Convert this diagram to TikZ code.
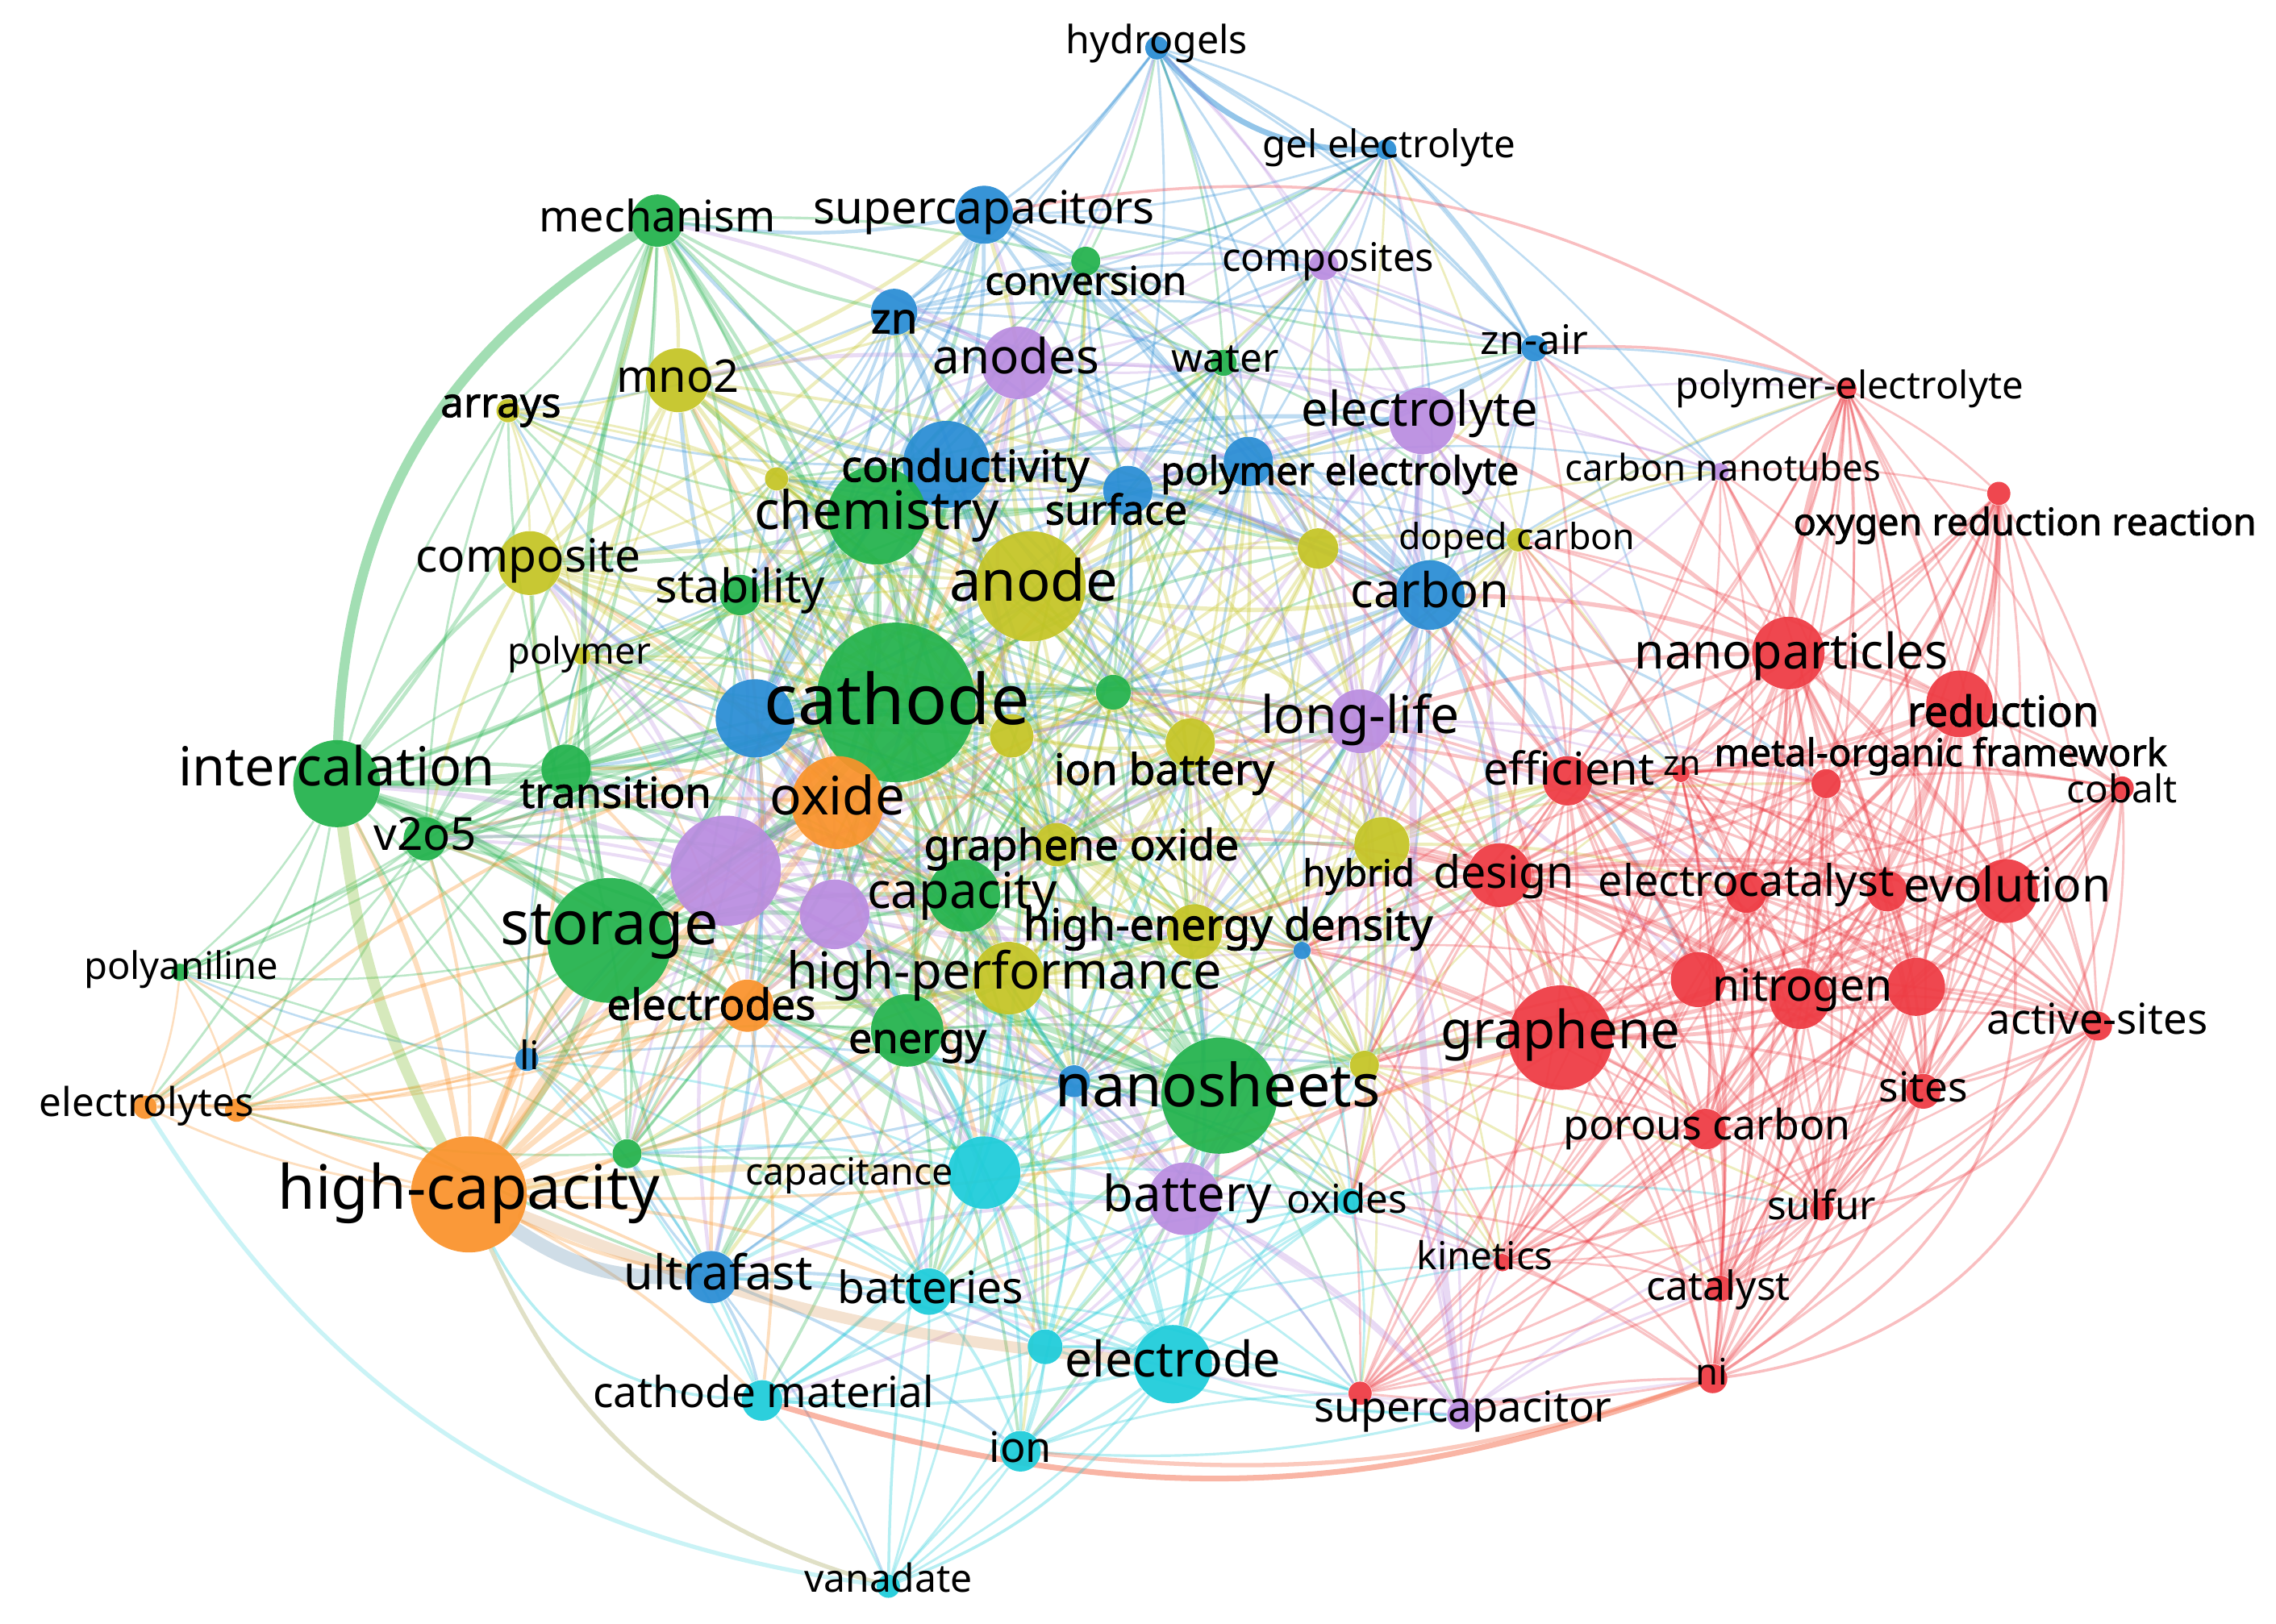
\documentclass[tikz,border=0pt]{standalone}
\usepackage{fontspec}
\setmainfont{Noto Sans}
\newfontfamily\kwbf{Noto Sans}[FakeBold=1.6]
\pgfdeclarelayer{bgl}
\pgfdeclarelayer{edges}
\pgfsetlayers{bgl,edges,main}
\definecolor{cR}{RGB}{238,58,66}
\definecolor{cG}{RGB}{34,178,76}
\definecolor{cB}{RGB}{40,140,212}
\definecolor{cY}{RGB}{196,196,36}
\definecolor{cP}{RGB}{186,140,224}
\definecolor{cO}{RGB}{250,146,42}
\definecolor{cC}{RGB}{28,204,218}
\newcommand\kw[3][]{{#1\fontsize{10}{12}\selectfont\setbox0\hbox{#3}\edef\kwW{\the\wd0}\pgfmathsetmacro\kwfs{10*#2*0.51215/\kwW}\fontsize{\kwfs}{\kwfs}\selectfont\vphantom{hg}#3}}
\def\nodelist{%
hydrogels/797/33/B/8,%
gelel/955/103/B/7,%
supercaps/678/148/B/20,%
znb/616/215/B/16,%
znair/1057/240/B/9,%
conduct/652/320/B/30,%
surface/777/338/B/17,%
polyel/860/318/B/17,%
carbon/985/410/B/24,%
bxa/520/495/B/27,%
li/363/730/B/8,%
ultrafast/490/880/B/18,%
bxb/897/655/B/6,%
bxc/740/745/B/11,%
mechanism/453/152/G/18,%
conversion/748/180/G/10,%
water/843/250/G/9,%
chemistry/604/355/G/34,%
stability/510/410/G/14,%
cathode/617/484/G/55,%
intercal/232/540/G/30,%
transition/390/530/G/17,%
vtwo/293/578/G/15,%
storage/420/648/G/43,%
capacity/664/617/G/25,%
energy/625/710/G/25,%
nanosheets/840/755/G/40,%
polyaniline/124/670/G/6,%
gxa/432/795/G/10,%
gxb/767/477/G/12,%
mno/467/262/Y/22,%
arrays/350/283/Y/8,%
yxa/535/330/Y/8,%
composite/365/388/Y/22,%
polymer/401/452/Y/6,%
anode/710/404/Y/38,%
yxb/908/378/Y/14,%
doped/1046/372/Y/8,%
ionbatt/820/512/Y/17,%
yxc/697/507/Y/15,%
grox/728/582/Y/15,%
hybrid/952/582/Y/19,%
hed/823/642/Y/19,%
highperf/695/674/Y/25,%
yxd/940/734/Y/10,%
composites/912/183/P/10,%
anodes/701/250/P/25,%
electrolyte/980/290/P/23,%
cnt/1185/325/P/6,%
longlife/937/497/P/22,%
pxa/500/600/P/38,%
pxb/575/630/P/24,%
battery/816/826/P/25,%
supercap/1007/975/P/10,%
oxide/577/553/O/32,%
electrodes/515/693/O/18,%
highcap/323/823/O/40,%
electrolytes/100/763/O/8,%
oxa/163/765/O/8,%
capacitance/678/808/C/25,%
batteries/640/890/C/16,%
cxa/720/928/C/12,%
electrode/808/940/C/27,%
cathmat/525/965/C/14,%
ion/703/1000/C/14,%
vanadate/612/1093/C/8,%
oxides/930/828/C/9,%
polymerel/1272/268/R/7,%
orr/1377/340/R/8,%
nanopart/1232/450/R/25,%
reduction/1350/485/R/23,%
efficient/1080/538/R/17,%
znr/1158/533/R/6,%
mof/1258/540/R/10,%
cobalt/1462/543/R/8,%
design/1033/603/R/22,%
electrocat/1203/615/R/14,%
rxa/1300/614/R/14,%
evolution/1382/614/R/22,%
rxb/1170/675/R/19,%
nitrogen/1240/688/R/21,%
rxc/1320/680/R/20,%
graphene/1075/715/R/36,%
activesites/1445/707/R/10,%
sites/1325/752/R/12,%
porous/1175/778/R/14,%
sulfur/1255/833/R/8,%
kinetics/1035/870/R/6,%
catalyst/1185/888/R/9,%
ni/1180/950/R/10,%
rxd/937/960/R/8}
\tikzset{
  kwnode/.style={circle,inner sep=0pt,draw=none,fill opacity=0.93},
  rad/.style={minimum size=#1*0.036cm},
  lbl/.style={inner sep=0pt,text=black},
  lnk/.style={opacity=0.3},
  xlnk/.style={opacity=0.33,line cap=round},
}
\begin{document}
\begin{tikzpicture}[x=0.018cm,y=-0.018cm]
\begin{pgfonlayer}{bgl}
\fill[white] (0,0) rectangle (1568,1119);
\end{pgfonlayer}
\useasboundingbox (0,0) rectangle (1568,1119);
% nodes
\foreach \n/\x/\y/\ca/\ra in \nodelist {%
  \node[kwnode,fill=c\ca,rad=\ra] (\n) at (\x,\y) {};
}
% proximity links
\begin{pgfonlayer}{edges}
\foreach \n/\x/\y/\ca/\ra [count=\i] in \nodelist {%
  \foreach \m/\xb/\yb/\cb/\rb [count=\j] in \nodelist {%
    \ifnum\j>\i\relax
      \pgfmathsetmacro\dd{((\x-\xb)/100)^2+((\y-\yb)/100)^2}%
      \ifx\ca\cb \def\thr{24}\else\def\thr{11}\fi
      \pgfmathtruncatemacro\ok{\dd<\thr}%
      \ifnum\ok=1\relax
        \ifnum\ra>\rb\relax \edef\ec{c\ca}\else\edef\ec{c\cb}\fi
        \pgfmathsetmacro\lw{0.45+0.045*min(\ra,\rb)}%
        \draw[lnk,color=\ec,line width=\lw pt] (\n) to[bend left=8] (\m);
      \fi
    \fi
  }%
}
% notable links
\draw[xlnk,cG,line width=3.5pt,opacity=.42] (mechanism) to[bend right=28] (intercal);
\draw[xlnk,cY!60!cG,line width=4pt] (intercal) to[bend right=10] (highcap);
\draw[xlnk,cB!50!gray,line width=5pt,opacity=.28] (highcap) to[bend right=18] (ultrafast);
\draw[xlnk,cO!70!gray,line width=4pt,opacity=.25] (highcap) to[bend right=8] (electrode);
\draw[xlnk,cO,line width=3pt] (highcap) to[bend left=10] (storage);
\draw[xlnk,cO,line width=3pt,opacity=.28] (highcap) to[bend left=8] (cathode);
\draw[xlnk,cO,line width=2pt] (highcap) to[bend left=8] (oxide);
\draw[xlnk,cY!50!cO,line width=2.5pt,opacity=.28] (highcap) to[bend left=5] (capacitance);
\draw[xlnk,cC,line width=1pt] (highcap) to[bend right=30] (cathmat);
\draw[xlnk,cY!50!gray,line width=1.5pt] (highcap) to[bend right=25] (vanadate);
\draw[xlnk,cC!70!white,line width=1.5pt] (vanadate) to[bend left=25] (electrolytes);
\draw[xlnk,cR!60!cO,line width=2pt,opacity=.45] (ni) to[bend left=18] (cathmat);
\draw[xlnk,cR!60!cO,line width=1.5pt] (ni) to[bend left=12] (ion);
\draw[xlnk,cP!70,line width=1pt] (ni) to[bend left=14] (batteries);
\draw[xlnk,cG,line width=2.5pt] (intercal) to[bend left=10] (storage);
\draw[xlnk,cG,line width=2pt] (mechanism) to[bend left=5] (cathode);
\draw[xlnk,cG,line width=2pt] (mechanism) to[bend right=12] (storage);
\draw[xlnk,cB,line width=2pt,opacity=.5] (hydrogels) to[bend right=25] (gelel);
\draw[xlnk,cB,line width=1pt] (hydrogels) to[bend left=10] (znair);
\draw[xlnk,cB,line width=1pt] (gelel) to[bend left=10] (znair);
\draw[xlnk,cB,line width=.8pt] (hydrogels) to[bend right=6] (carbon);
\draw[xlnk,cB,line width=.8pt] (hydrogels) to[bend right=8] (bxa);
\draw[xlnk,cB,line width=.8pt] (gelel) to[bend right=8] (conduct);
\draw[xlnk,cR,line width=2pt] (polymerel) to[bend right=8] (nanopart);
\draw[xlnk,cR,line width=1pt] (polymerel) to[bend right=22] (supercaps);
\draw[xlnk,cR,line width=1pt] (znair) to[bend left=10] (polymerel);
\draw[xlnk,cR,line width=2pt] (orr) to[bend left=10] (reduction);
\draw[xlnk,cR,line width=1pt] (ni) to[bend right=35] (activesites);
\draw[xlnk,cR,line width=1pt] (ni) to[bend right=40] (evolution);
\draw[xlnk,cR,line width=1pt] (sulfur) to[bend right=30] (activesites);
\draw[xlnk,cR,line width=1pt] (catalyst) to[bend right=35] (cobalt);
\draw[xlnk,cR,line width=1pt] (ni) to[bend right=20] (sites);
\draw[xlnk,cP,line width=2.5pt] (supercap) to[bend left=5] (electrolyte);
\draw[xlnk,cP,line width=1.5pt] (supercap) to[bend right=10] (battery);
\draw[xlnk,cP,line width=1pt] (supercap) to[bend left=4] (composites);
\draw[xlnk,cO,line width=1.2pt] (electrolytes) to[bend left=10] (cathode);
\draw[xlnk,cO,line width=1.2pt] (electrolytes) to[bend left=8] (storage);
\draw[xlnk,cO,line width=1pt] (oxa) to[bend left=6] (ultrafast);
\draw[xlnk,cG,line width=1pt] (polyaniline) to[bend left=6] (cathode);
\draw[xlnk,cG,line width=1pt] (polyaniline) to[bend right=10] (ultrafast);
\draw[xlnk,cC,line width=1pt] (vanadate) to[bend left=10] (highperf);
\draw[xlnk,cC,line width=1pt] (vanadate) to[bend right=15] (electrode);
\draw[xlnk,cO,line width=1pt] (highcap) to[bend right=10] (graphene);
\end{pgfonlayer}
% labels
\node[lbl] (L1) at (797,30) {\kw{125}{hydrogels}};
\node[lbl] (L2) at (957,102) {\kw{174}{gel electrolyte}};
\node[lbl] (L3) at (678,146) {\kw{235}{supercapacitors}};
\node[lbl] (L4) at (453,152) {\kw{163}{mechanism}};
\node[lbl] (L5) at (748,196) {\kw[\kwbf]{139}{conversion}};
\node[lbl] (L6) at (915,180) {\kw{146}{composites}};
\node[lbl] (L7) at (616,222) {\kw[\kwbf]{32}{zn}};
\node[lbl] (L8) at (700,249) {\kw{115}{anodes}};
\node[lbl] (L9) at (844,249) {\kw{74}{water}};
\node[lbl] (L10) at (1057,237) {\kw{74}{zn-air}};
\node[lbl] (L11) at (1274,268) {\kw{240}{polymer-electrolyte}};
\node[lbl] (L12) at (467,262) {\kw{85}{mno2}};
\node[lbl] (L13) at (345,280) {\kw[\kwbf]{83}{arrays}};
\node[lbl] (L14) at (978,285) {\kw{163}{electrolyte}};
\node[lbl] (L15) at (665,324) {\kw[\kwbf]{171}{conductivity}};
\node[lbl] (L16) at (923,327) {\kw[\kwbf]{247}{polymer electrolyte}};
\node[lbl] (L17) at (1187,325) {\kw{218}{carbon nanotubes}};
\node[lbl] (L18) at (604,355) {\kw{169}{chemistry}};
\node[lbl] (L19) at (769,354) {\kw[\kwbf]{98}{surface}};
\node[lbl] (L20) at (1395,362) {\kw[\kwbf]{319}{oxygen reduction reaction}};
\node[lbl] (L21) at (364,386) {\kw{155}{composite}};
\node[lbl] (L22) at (1045,372) {\kw{163}{doped carbon}};
\node[lbl] (L23) at (712,404) {\kw{116}{anode}};
\node[lbl] (L24) at (510,407) {\kw{117}{stability}};
\node[lbl] (L25) at (985,410) {\kw{109}{carbon}};
\node[lbl] (L26) at (399,451) {\kw{99}{polymer}};
\node[lbl] (L27) at (1234,452) {\kw{216}{nanoparticles}};
\node[lbl] (L28) at (618,487) {\kw{183}{cathode}};
\node[lbl] (L29) at (937,496) {\kw{137}{long-life}};
\node[lbl] (L30) at (1380,493) {\kw[\kwbf]{132}{reduction}};
\node[lbl] (L31) at (232,532) {\kw{218}{intercalation}};
\node[lbl] (L32) at (802,533) {\kw[\kwbf]{152}{ion battery}};
\node[lbl] (L33) at (1081,533) {\kw{118}{efficient}};
\node[lbl] (L34) at (1159,528) {\kw{26}{zn}};
\node[lbl] (L35) at (1337,521) {\kw[\kwbf]{312}{metal-organic framework}};
\node[lbl] (L36) at (1462,546) {\kw{76}{cobalt}};
\node[lbl] (L37) at (424,549) {\kw[\kwbf]{132}{transition}};
\node[lbl] (L38) at (577,552) {\kw{93}{oxide}};
\node[lbl] (L39) at (293,578) {\kw{71}{v2o5}};
\node[lbl] (L40) at (745,585) {\kw[\kwbf]{217}{graphene oxide}};
\node[lbl] (L41) at (936,604) {\kw[\kwbf]{77}{hybrid}};
\node[lbl] (L42) at (1036,604) {\kw{97}{design}};
\node[lbl] (L43) at (1203,610) {\kw{204}{electrocatalyst}};
\node[lbl] (L44) at (1383,613) {\kw{143}{evolution}};
\node[lbl] (L45) at (663,617) {\kw{131}{capacity}};
\node[lbl] (L46) at (420,640) {\kw{150}{storage}};
\node[lbl] (L47) at (846,640) {\kw[\kwbf]{282}{high-energy density}};
\node[lbl] (L48) at (125,668) {\kw{134}{polyaniline}};
\node[lbl] (L49) at (692,672) {\kw{300}{high-performance}};
\node[lbl] (L50) at (1242,682) {\kw{124}{nitrogen}};
\node[lbl] (L51) at (490,695) {\kw[\kwbf]{144}{electrodes}};
\node[lbl] (L52) at (1075,713) {\kw{165}{graphene}};
\node[lbl] (L53) at (1445,705) {\kw{152}{active-sites}};
\node[lbl] (L54) at (632,718) {\kw[\kwbf]{95}{energy}};
\node[lbl] (L55) at (365,730) {\kw{14}{li}};
\node[lbl] (L56) at (839,752) {\kw{224}{nanosheets}};
\node[lbl] (L57) at (1325,752) {\kw{61}{sites}};
\node[lbl] (L58) at (101,762) {\kw{148}{electrolytes}};
\node[lbl] (L59) at (1176,778) {\kw{198}{porous carbon}};
\node[lbl] (L60) at (323,822) {\kw{263}{high-capacity}};
\node[lbl] (L61) at (585,810) {\kw{143}{capacitance}};
\node[lbl] (L62) at (818,826) {\kw{116}{battery}};
\node[lbl] (L63) at (928,829) {\kw{83}{oxides}};
\node[lbl] (L64) at (1255,833) {\kw{75}{sulfur}};
\node[lbl] (L65) at (1023,868) {\kw{94}{kinetics}};
\node[lbl] (L66) at (495,880) {\kw{130}{ultrafast}};
\node[lbl] (L67) at (641,890) {\kw{128}{batteries}};
\node[lbl] (L68) at (1184,889) {\kw{99}{catalyst}};
\node[lbl] (L69) at (808,940) {\kw{149}{electrode}};
\node[lbl] (L70) at (1179,948) {\kw{22}{ni}};
\node[lbl] (L71) at (526,962) {\kw{235}{cathode material}};
\node[lbl] (L72) at (1008,972) {\kw{205}{supercapacitor}};
\node[lbl] (L73) at (703,1000) {\kw{43}{ion}};
\node[lbl] (L74) at (612,1090) {\kw{116}{vanadate}};
\end{tikzpicture}
\end{document}
